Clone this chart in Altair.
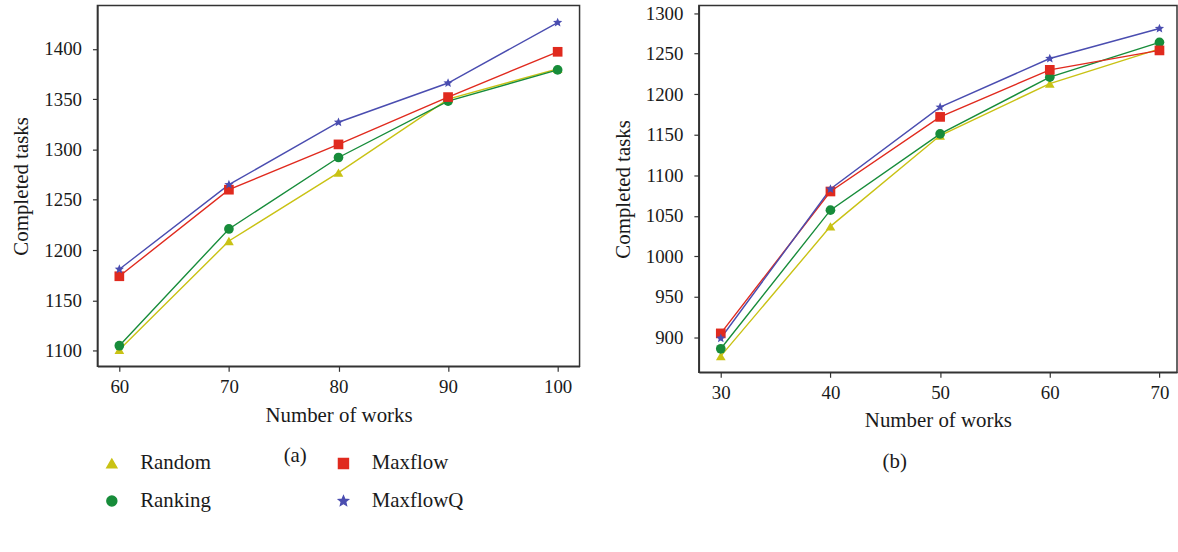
import altair as alt

# ---------------- data ----------------
series_names = ["Random", "Ranking", "Maxflow", "MaxflowQ"]

works_a = [60, 70, 80, 90, 100]
random_a = [1101, 1209, 1277, 1350, 1380]
ranking_a = [1105, 1221, 1292, 1348, 1379]
maxflow_a = [1174, 1260, 1305, 1352, 1397]
maxflowq_a = [1181, 1265, 1327, 1366, 1426]

works_b = [30, 40, 50, 60, 70]
random_b = [877, 1037, 1149, 1213, 1256]
ranking_b = [886, 1057, 1151, 1221, 1264]
maxflow_b = [905, 1080, 1172, 1230, 1254]
maxflowq_b = [899, 1083, 1184, 1244, 1281]

ticks_a_x = [60, 70, 80, 90, 100]
ticks_a_y = [1100, 1150, 1200, 1250, 1300, 1350, 1400]
ticks_b_x = [30, 40, 50, 60, 70]
ticks_b_y = [900, 950, 1000, 1050, 1100, 1150, 1200, 1250, 1300]

# ---------------- styles ----------------
colors = {"Random": "#c9c214", "Ranking": "#178c3a", "Maxflow": "#e02a1e", "MaxflowQ": "#4a4db0"}
STAR = ("M0,-1L0.265,-0.364L0.951,-0.309L0.428,0.139L0.588,0.809L0,0.45L-0.588,0.809"
        "L-0.428,0.139L-0.951,-0.309L-0.265,-0.364Z")
shapes = {"Random": "triangle-up", "Ranking": "circle", "Maxflow": "square", "MaxflowQ": STAR}

FONT = "Liberation Serif"
TXT = "#1a1a1a"
color_scale = alt.Scale(domain=series_names, range=[colors[s] for s in series_names])
shape_scale = alt.Scale(domain=series_names, range=[shapes[s] for s in series_names])


def make_rows(works, vals):
    rows = []
    for name, v in zip(series_names, vals):
        for w, y in zip(works, v):
            rows.append({"works": w, "tasks": y, "series": name})
    return rows


def panel(rows, xdom, ydom, xticks, yticks, w, h, caption, leg_y):
    x_enc = alt.X("works:Q", scale=alt.Scale(domain=xdom, nice=False, zero=False),
                  axis=alt.Axis(values=xticks, title="Number of works", grid=False,
                                labelPadding=6, titlePadding=8, format="d"))
    y_enc = alt.Y("tasks:Q", scale=alt.Scale(domain=ydom, nice=False, zero=False),
                  axis=alt.Axis(values=yticks, title="Completed tasks", grid=False,
                                labelPadding=11, titlePadding=12, format="d"))
    leg = alt.Legend(
        title=None, orient="none", legendX=4, legendY=leg_y, columns=2,
        columnPadding=122, rowPadding=16, padding=0,
        symbolSize=100, symbolOpacity=1,
        labelFont=FONT, labelFontSize=21, labelColor=TXT, labelOffset=18,
        labelLimit=300,
    )
    base = alt.Chart(alt.Data(values=rows))
    lines = base.mark_line(strokeWidth=1.4).encode(
        x=x_enc, y=y_enc,
        color=alt.Color("series:N", scale=color_scale, legend=leg),
    )
    points = base.mark_point(filled=True, opacity=1, size=95).encode(
        x=x_enc, y=y_enc,
        color=alt.Color("series:N", scale=color_scale, legend=leg),
        shape=alt.Shape("series:N", scale=shape_scale, legend=leg),
    )
    return alt.layer(lines, points).properties(
        width=w, height=h,
        title=alt.TitleParams(caption, orient="bottom", anchor="middle", frame="bounds",
                              font=FONT, fontSize=21, fontWeight="normal", color=TXT,
                              offset=20),
    )


rows_a = make_rows(works_a, [random_a, ranking_a, maxflow_a, maxflowq_a])
rows_b = make_rows(works_b, [random_b, ranking_b, maxflow_b, maxflowq_b])

pa = panel(rows_a, [58, 102], [1084.5, 1443], ticks_a_x, ticks_a_y, 485, 363, "(a)", 450)
pb = panel(rows_b, [28, 71.6], [857, 1309.4], ticks_b_x, ticks_b_y, 481, 369, "(b)", 455)

chart = alt.hconcat(pa, pb, spacing=31).properties(
    padding={"left": 10, "top": 1, "right": 0, "bottom": 0},
).configure_axis(
    labelFont=FONT, labelFontSize=19, labelColor=TXT,
    titleFont=FONT, titleFontSize=21, titleFontWeight="normal", titleColor=TXT,
    domainColor="#333333", domainWidth=1.5, tickColor="#333333", tickSize=5, tickWidth=1.2,
).configure_view(stroke="#333333", strokeWidth=1.5)

chart.save("out.html", embed_options={"renderer": "svg", "actions": False})
